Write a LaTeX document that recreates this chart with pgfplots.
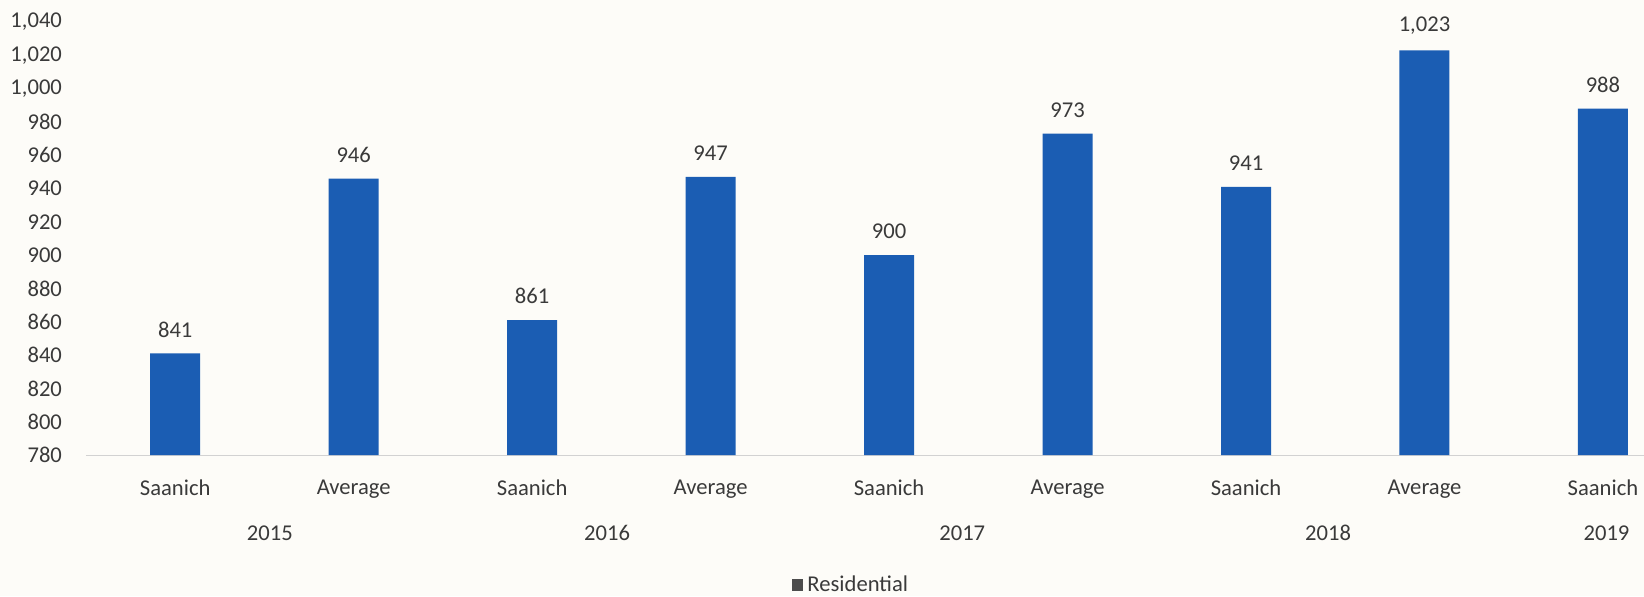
\documentclass[border=0pt]{standalone}
\usepackage{fontspec}
\setmainfont{Carlito}
\usepackage{pgfplots}
\pgfplotsset{compat=1.18}
\definecolor{barblue}{HTML}{1B5DB3}
\definecolor{txt}{HTML}{3A3A3A}
\definecolor{bg}{HTML}{FDFCF8}
\begin{document}
\begin{tikzpicture}
\fill[bg] (-43pt,-70.5pt) rectangle (779pt,227.5pt);
\begin{axis}[
  at={(0,0)}, anchor=south west,
  scale only axis, width=779pt, height=216.5pt,
  xmin=-0.5, xmax=8.23, ymin=780, ymax=1040,
  clip=false,
  ybar, bar width=25pt,
  ytick={780,800,...,1040},
  xtick={0,...,8},
  xticklabels={Saanich,Average,Saanich,Average,Saanich,Average,Saanich,Average,Saanich},
  axis x line*=bottom, axis y line*=left,
  x axis line style={draw=gray!35, -},
  y axis line style={draw=none},
  major tick style={draw=none},
  tick label style={font=\fontsize{11.3}{13}\selectfont, text=txt},
  yticklabel style={xshift=-8.5pt},
  xticklabel style={yshift=-4.5pt},
  nodes near coords,
  every node near coord/.append style={font=\fontsize{11.3}{13}\selectfont, text=txt, yshift=4.5pt},
  legend style={draw=none, fill=none, at={(0.4917,-0.300)}, anchor=center,
    font=\fontsize{11.3}{13}\selectfont, text=txt},
  legend image code/.code={\fill[gray!60!black] (0cm,-0.1cm) rectangle (0.2cm,0.1cm);},
  /pgf/number format/1000 sep={,},
  /pgf/number format/assume math mode=true,
]
\addplot[fill=barblue, draw=none] coordinates {
(0,841) (1,946) (2,861) (3,947) (4,900) (5,973) (6,941) (7,1023) (8,988)};
\addlegendentry{Residential}
\node[font=\fontsize{11.3}{13}\selectfont, text=txt] at ([yshift=-39pt]axis cs:0.53,780) {2015};
\node[font=\fontsize{11.3}{13}\selectfont, text=txt] at ([yshift=-39pt]axis cs:2.42,780) {2016};
\node[font=\fontsize{11.3}{13}\selectfont, text=txt] at ([yshift=-39pt]axis cs:4.41,780) {2017};
\node[font=\fontsize{11.3}{13}\selectfont, text=txt] at ([yshift=-39pt]axis cs:6.46,780) {2018};
\node[font=\fontsize{11.3}{13}\selectfont, text=txt] at ([yshift=-39pt]axis cs:8.02,780) {2019};
\end{axis}
\pgfresetboundingbox
\path (-43pt,-70.5pt) rectangle (779pt,227.5pt);
\end{tikzpicture}
\end{document}
